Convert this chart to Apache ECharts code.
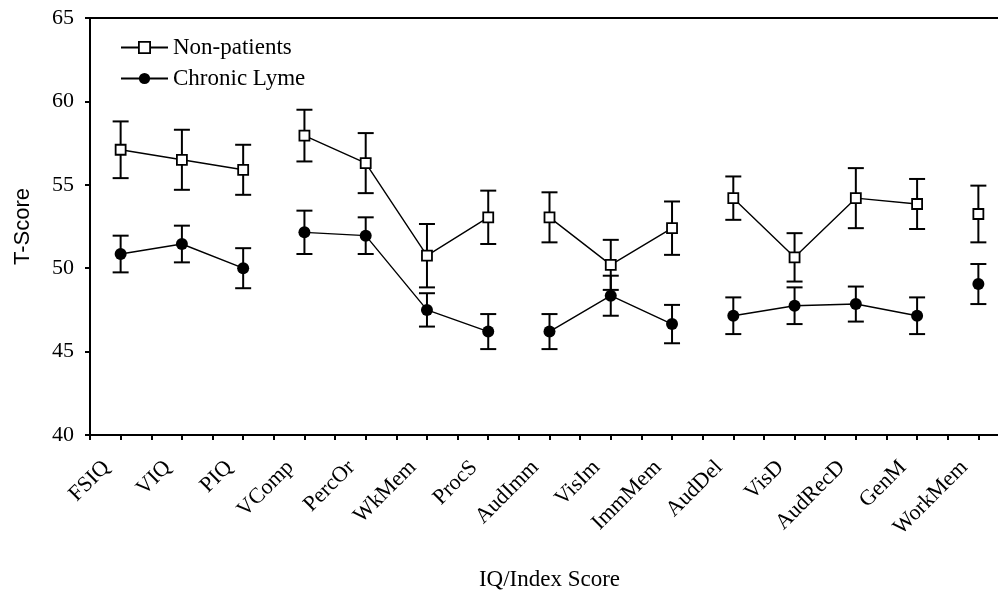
<!DOCTYPE html>
<html>
<head>
<meta charset="utf-8">
<script src="https://cdn.jsdelivr.net/npm/echarts@6/dist/echarts.min.js"></script>
<style>
html,body{margin:0;padding:0;background:#fff;}
#chart{width:998px;height:591px;}
</style>
</head>
<body>
<div id="chart"></div>
<script>
// ---- data ----
const categories = ['FSIQ','VIQ','PIQ','VComp','PercOr','WkMem','ProcS','AudImm','VisIm','ImmMem','AudDel','VisD','AudRecD','GenM','WorkMem'];
const nonPatientsMean = [57.1, 56.5, 55.9, 57.95, 56.3, 50.75, 53.05, 53.05, 50.2, 52.4, 54.2, 50.65, 54.2, 53.85, 53.25];
const nonPatientsErr  = [1.7, 1.8, 1.5, 1.55, 1.8, 1.9, 1.6, 1.5, 1.5, 1.6, 1.3, 1.45, 1.8, 1.5, 1.7];
const lymeMean = [50.85, 51.45, 50.0, 52.15, 51.95, 47.5, 46.2, 46.2, 48.35, 46.65, 47.15, 47.75, 47.85, 47.15, 49.05];
const lymeErr  = [1.1, 1.1, 1.2, 1.3, 1.1, 1.0, 1.05, 1.05, 1.2, 1.15, 1.1, 1.1, 1.05, 1.1, 1.2];
// groups of categories joined by a line (index ranges, inclusive)
const lineGroups = [[0,2],[3,6],[7,9],[10,13],[14,14]];
// half-category tick slots (two per category: boundary and centre)
const tickSlots = categories.flatMap(c => ['', '']);
const yTicks = {min: 40, max: 65, interval: 5};

const serif = "'Liberation Serif','Times New Roman',serif";

function segment(values, g) {
  return values.map((v, i) => (i >= g[0] && i <= g[1]) ? v : '-');
}

function errorSeries(mean, err, name) {
  return {
    type: 'custom',
    name: name,
    xAxisIndex: 0,
    z: 2,
    silent: true,
    data: mean.map((m, i) => [i, m - err[i], m + err[i]]),
    renderItem: function (params, api) {
      const lo = api.coord([api.value(0), api.value(1)]);
      const hi = api.coord([api.value(0), api.value(2)]);
      const w = 8;
      const st = {stroke: '#000', lineWidth: 2};
      return {
        type: 'group',
        children: [
          {type: 'line', shape: {x1: lo[0], y1: lo[1], x2: hi[0], y2: hi[1]}, style: st},
          {type: 'line', shape: {x1: lo[0]-w, y1: lo[1], x2: lo[0]+w, y2: lo[1]}, style: st},
          {type: 'line', shape: {x1: hi[0]-w, y1: hi[1], x2: hi[0]+w, y2: hi[1]}, style: st}
        ]
      };
    }
  };
}

const series = [];
series.push(errorSeries(nonPatientsMean, nonPatientsErr, 'npErr'));
series.push(errorSeries(lymeMean, lymeErr, 'clErr'));
lineGroups.forEach(g => {
  series.push({
    type: 'line', name: 'Non-patients', xAxisIndex: 0, z: 5,
    data: segment(nonPatientsMean, g),
    symbol: 'rect', symbolSize: 10, showAllSymbol: true,
    lineStyle: {color: '#000', width: 1.4},
    itemStyle: {color: '#fff', borderColor: '#000', borderWidth: 1.8},
    emphasis: {disabled: true}, animation: false
  });
  series.push({
    type: 'line', name: 'Chronic Lyme', xAxisIndex: 0, z: 5,
    data: segment(lymeMean, g),
    symbol: 'circle', symbolSize: 12, showAllSymbol: true,
    lineStyle: {color: '#000', width: 1.4},
    itemStyle: {color: '#000', borderColor: '#000', borderWidth: 0},
    emphasis: {disabled: true}, animation: false
  });
});

const chart = echarts.init(document.getElementById('chart'), null, {renderer: 'canvas'});
chart.setOption({
  animation: false,
  backgroundColor: '#fff',
  grid: {left: 90, right: -11, top: 18, bottom: 156, containLabel: false, outerBoundsMode: 'none',
         show: true, borderColor: '#000', borderWidth: 2, backgroundColor: 'transparent'},
  legend: {
    data: [
      {name: 'Non-patients', itemStyle: {color: '#fff', borderColor: '#000', borderWidth: 1.8}},
      {name: 'Chronic Lyme'}
    ],
    orient: 'vertical', left: 115, top: 31,
    itemWidth: 47, itemHeight: 14, itemGap: 8,
    textStyle: {fontFamily: serif, fontSize: 23, color: '#000'},
    selectedMode: false
  },
  xAxis: [
    {
      type: 'category', data: categories, boundaryGap: true, position: 'bottom', offset: 0,
      name: 'IQ/Index Score', nameLocation: 'middle', nameGap: 133, nameMoveOverlap: false,
      nameTextStyle: {fontFamily: serif, fontSize: 23, color: '#000'},
      axisLine: {lineStyle: {color: '#000', width: 2}},
      axisTick: {show: false},
      axisLabel: {rotate: 45, margin: 15, interval: 0, fontFamily: serif, fontSize: 22, color: '#000',
                  padding: [0, 20, 0, 0]},
      splitLine: {show: false}
    },
    {
      type: 'category', data: tickSlots, boundaryGap: true, position: 'bottom', offset: 0,
      axisLine: {show: false},
      axisTick: {show: true, interval: 0, length: 5, lineStyle: {color: '#000', width: 2}},
      axisLabel: {show: false},
      splitLine: {show: false}
    }
  ],
  yAxis: {
    type: 'value', min: yTicks.min, max: yTicks.max, interval: yTicks.interval,
    name: 'T-Score', nameLocation: 'middle', nameGap: 56, nameRotate: 90, nameMoveOverlap: false,
    nameTextStyle: {fontFamily: "'Liberation Sans Narrow','Liberation Sans',sans-serif", fontSize: 22, color: '#000'},
    axisLine: {show: true, lineStyle: {color: '#000', width: 2}},
    axisTick: {show: true, length: 5, lineStyle: {color: '#000', width: 2}},
    axisLabel: {margin: 16, fontFamily: serif, fontSize: 22, color: '#000'},
    splitLine: {show: false}
  },
  series: series
});
</script>
</body>
</html>
